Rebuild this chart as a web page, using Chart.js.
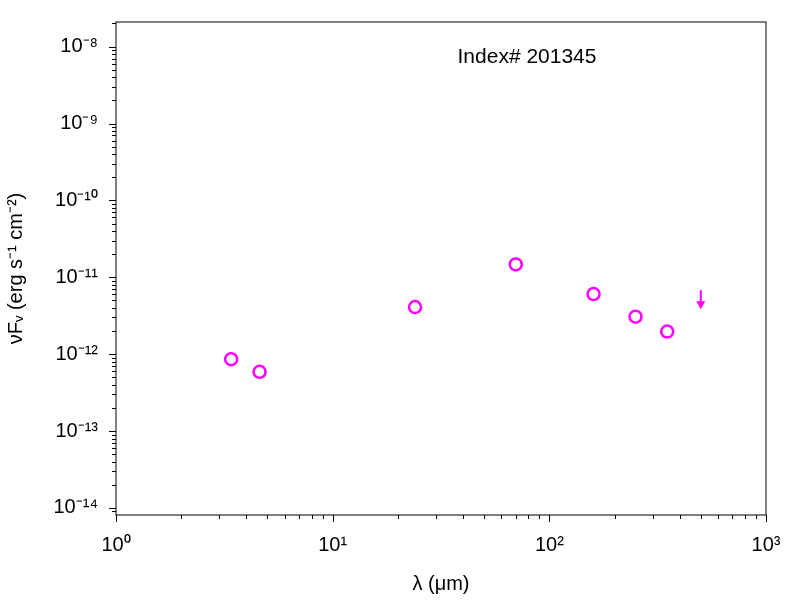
<!DOCTYPE html>
<html>
<head>
<meta charset="utf-8">
<script src="https://cdn.jsdelivr.net/npm/chart.js@4.4.0/dist/chart.umd.min.js"></script>
<style>
  html, body { margin: 0; padding: 0; background: #fff; }
  #wrap { width: 800px; height: 600px; }
</style>
</head>
<body>
<div id="wrap"><canvas id="sedChart"></canvas></div>
<script>
// Données photométriques (lambda en micron, nuF_nu en erg/s/cm2)
const wavelengths = [3.4, 4.6, 24, 70, 160, 250, 350];
const fluxes = [8.6e-13, 5.9e-13, 4.1e-12, 1.47e-11, 6.05e-12, 3.07e-12, 1.97e-12];
// Limite supérieure
const limitWavelengths = [500];
const limitFluxes = [6.8e-12];
const xTicks = [1, 10, 100, 1000];
const yTicks = [1e-14, 1e-13, 1e-12, 1e-11, 1e-10, 1e-9, 1e-8];
const labelText = 'Index# 201345';

const SUP = { '-': '⁻', '0': '⁰', '1': '¹', '2': '²', '3': '³', '4': '⁴', '5': '⁵', '6': '⁶', '7': '⁷', '8': '⁸', '9': '⁹' };
function powLabel(v) {
    const e = String(Math.round(Math.log10(v)));
    return '10' + e.split('').map(c => SUP[c]).join('');
}

function logTicks(min, max) {
    const out = [];
    for (let d = Math.floor(Math.log10(min)); d <= Math.ceil(Math.log10(max)); d++) {
        for (let m = 1; m < 10; m++) {
            const v = m * Math.pow(10, d);
            if (v >= min * 0.9999 && v <= max * 1.0001) out.push({ v: v, major: m === 1 });
        }
    }
    return out;
}

// Plugin: cadre, graduations, texte, flèche
const decorPlugin = {
    id: 'decor',
    afterDraw(chart) {
        const ctx = chart.ctx;
        const a = chart.chartArea;
        const xs = chart.scales.x, ys = chart.scales.y;
        ctx.save();
        ctx.strokeStyle = '#000';
        ctx.lineWidth = 1;
        ctx.strokeRect(a.left, a.top, a.right - a.left, a.bottom - a.top);
        logTicks(xs.min, xs.max).forEach(t => {
            const x = Math.round(xs.getPixelForValue(t.v)) + 0.5;
            ctx.beginPath();
            ctx.moveTo(x, a.bottom);
            ctx.lineTo(x, a.bottom + (t.major ? 7 : 4));
            ctx.stroke();
        });
        logTicks(ys.min, ys.max).forEach(t => {
            const y = Math.round(ys.getPixelForValue(t.v)) + 0.5;
            ctx.beginPath();
            ctx.moveTo(a.left, y);
            ctx.lineTo(a.left - (t.major ? 7 : 4), y);
            ctx.stroke();
        });
        ctx.fillStyle = '#000';
        ctx.font = '21px "Liberation Sans", Arial, sans-serif';
        ctx.textAlign = 'center';
        ctx.textBaseline = 'middle';
        ctx.fillText(labelText, 527, 57);
        // flèche de limite supérieure
        ctx.strokeStyle = '#ff00ff';
        ctx.fillStyle = '#ff00ff';
        ctx.lineWidth = 2;
        limitWavelengths.forEach((w, i) => {
            const x = xs.getPixelForValue(w);
            const y0 = ys.getPixelForValue(limitFluxes[i]);
            ctx.beginPath();
            ctx.moveTo(x, y0);
            ctx.lineTo(x, y0 + 13);
            ctx.stroke();
            ctx.beginPath();
            ctx.moveTo(x - 4.5, y0 + 11);
            ctx.lineTo(x + 4.5, y0 + 11);
            ctx.lineTo(x, y0 + 19);
            ctx.closePath();
            ctx.fill();
        });
        ctx.restore();
    }
};

const font = { family: '"Liberation Sans", Arial, sans-serif', size: 20 };

new Chart(document.getElementById('sedChart').getContext('2d'), {
    type: 'scatter',
    data: {
        datasets: [{
            data: wavelengths.map((w, i) => ({ x: w, y: fluxes[i] })),
            pointRadius: 6,
            pointBorderWidth: 2.5,
            pointBorderColor: '#ff00ff',
            pointBackgroundColor: 'rgba(0,0,0,0)',
            showLine: false
        }]
    },
    options: {
        responsive: true,
        maintainAspectRatio: false,
        animation: false,
        layout: { padding: { top: 15, right: 34, left: 0, bottom: 0 } },
        plugins: { legend: { display: false }, tooltip: { enabled: false } },
        scales: {
            x: {
                type: 'logarithmic',
                min: 1, max: 1000,
                afterBuildTicks: s => { s.ticks = xTicks.map(v => ({ value: v })); },
                afterFit: s => { s.height = 85; },
                grid: { display: false },
                border: { display: false },
                ticks: { color: '#000', font: font, padding: 10, maxRotation: 0, callback: v => powLabel(v) },
                title: { display: true, text: 'λ (μm)', color: '#000', font: font, padding: { top: 2 } }
            },
            y: {
                type: 'logarithmic',
                min: 8.1e-15, max: 2.09e-8,
                afterBuildTicks: s => { s.ticks = yTicks.map(v => ({ value: v })); },
                afterFit: s => { s.width = 116; },
                grid: { display: false },
                border: { display: false },
                ticks: { color: '#000', font: font, padding: 10, callback: v => powLabel(v) },
                title: { display: true, text: 'νFᵥ (erg s⁻¹ cm⁻²)', color: '#000', font: font, padding: { bottom: 4 } }
            }
        }
    },
    plugins: [decorPlugin]
});
</script>
</body>
</html>
